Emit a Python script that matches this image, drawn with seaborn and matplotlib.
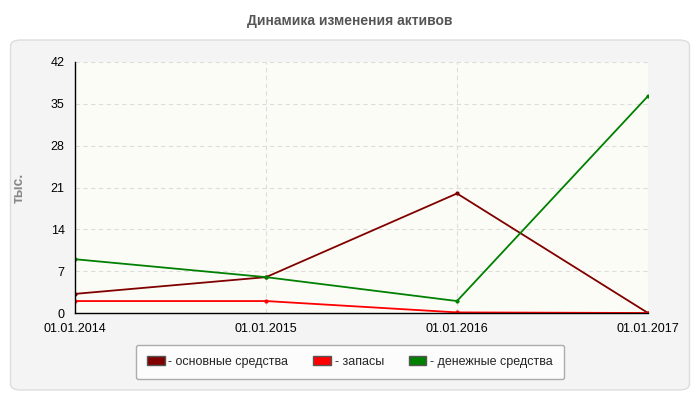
import matplotlib.pyplot as plt
import seaborn as sns
import pandas as pd
from matplotlib.patches import FancyBboxPatch

sns.set_style("white")
plt.rcParams['font.family'] = ['Liberation Sans', 'DejaVu Sans']

dates = ['01.01.2014', '01.01.2015', '01.01.2016', '01.01.2017']
fixed_assets = [3.2, 6.0, 20.0, 0.0]
stocks = [2.0, 2.0, 0.1, 0.0]
cash = [9.0, 6.0, 2.0, 36.3]
names = ['- основные средства', '- запасы', '- денежные средства']
colors = ['#800000', '#ff0000', '#008000']

df = pd.DataFrame({'x': list(range(len(dates))) * 3,
                   'value': fixed_assets + stocks + cash,
                   'series': [n for n in names for _ in dates]})

fig = plt.figure(figsize=(7, 4), dpi=100)
# outer rounded panel, kept behind the axes
panel = FancyBboxPatch((0.015, 0.025), 0.97, 0.875, boxstyle="round,pad=0,rounding_size=0.015",
                       transform=fig.transFigure, facecolor='#f4f4f4', edgecolor='#dddddd',
                       lw=1, zorder=-10)
fig.patches.append(panel)
fig.text(0.5, 0.948, 'Динамика изменения активов', ha='center', va='center',
         fontsize=10, fontweight='bold', color='#555555')

ax = fig.add_axes([75/700, 1 - 313/400, (648 - 75)/700, (313 - 62)/400])
ax.set_zorder(1)
ax.set_facecolor('#fcfcf7')
sns.lineplot(data=df, x='x', y='value', hue='series', palette=colors, ax=ax,
             marker='o', markersize=3, markeredgewidth=0, linewidth=1.3, legend=False)
ax.set_xlim(0, 3)
ax.set_ylim(0, 42)
ax.set_xticks(range(4))
ax.set_xticklabels(dates)
ax.set_yticks(range(0, 43, 7))
ax.tick_params(labelsize=9, length=4, colors='#000000')
ax.grid(True, linestyle=(0, (4, 3)), color='#dddddd', lw=0.8)
for s in ['top', 'right']:
    ax.spines[s].set_visible(False)
for s in ['left', 'bottom']:
    ax.spines[s].set_color('#000000')
    ax.spines[s].set_linewidth(1)
ax.set_xlabel('')
ax.set_ylabel('тыс.', fontsize=10, fontweight='bold', color='#888888', labelpad=18)

handles = [plt.Rectangle((0, 0), 1, 1, facecolor=c, edgecolor='#555555') for c in colors]
leg = fig.legend(handles, names, loc='center', bbox_to_anchor=(350/700, 1 - 362/400), ncol=3,
                 fontsize=9, frameon=True, handlelength=1.4, handleheight=0.7,
                 columnspacing=2.0, handletextpad=0.3, borderpad=0.9)
leg.get_frame().set_edgecolor('#999999')
leg.get_frame().set_facecolor('white')
leg.set_zorder(2)

fig.savefig('out.png', dpi=100)
